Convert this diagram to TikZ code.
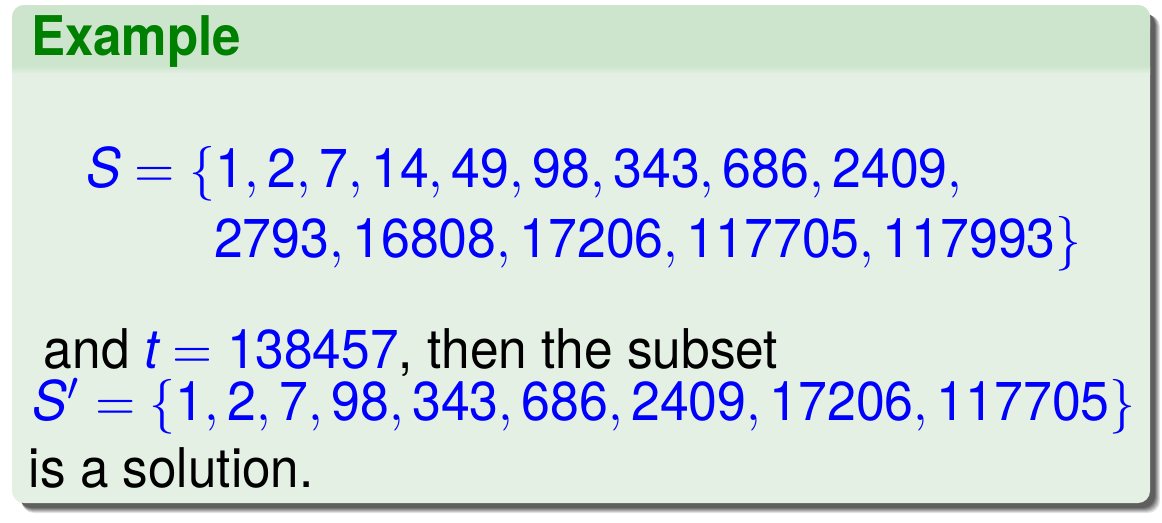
\documentclass[tikz,border=0pt]{standalone}
\usepackage{graphicx}
\usepackage{fontspec}
\setmainfont{TeX Gyre Heros}
\setsansfont{TeX Gyre Heros}
\definecolor{titlebg}{RGB}{205,229,205}
\definecolor{bodybg}{RGB}{229,240,229}
\definecolor{titlefg}{RGB}{0,128,0}
\newcommand\sqz[2]{\scalebox{#1}[1]{#2}}
\tikzset{
  line/.style={anchor=base west, inner sep=0pt, font=\fontsize{10.95}{12}\selectfont},
  mathline/.style={line, text=blue},
  titletext/.style={anchor=base west, inner sep=0pt, text=titlefg, font=\fontsize{10.95}{12}\selectfont\bfseries},
  shadowlayer/.style={fill=black, rounded corners=2.4pt}
}
\begin{document}
\begin{tikzpicture}[x=0.2pt,y=-0.2pt]
\useasboundingbox (0,0) rectangle (1162,522);
% shadow
\foreach \i/\o in {0/0.10,1/0.12,2/0.14,3/0.16,4/0.18,5/0.20}{
  \fill[shadowlayer, opacity=\o] (22-\i/2,15-\i/2) rectangle (1160-\i,513-\i);
}
% body
\fill[bodybg, rounded corners=2.4pt] (12,5) rectangle (1150,503);
\fill[titlebg, rounded corners=2.4pt] (12,5) rectangle (1150,40);
\fill[titlebg] (12,30) rectangle (1150,66);
\shade[top color=titlebg, bottom color=bodybg] (12,66) rectangle (1150,74);
\node[titletext] (title) at (30,55) {\sqz{0.933}{Example}};
\node[mathline] (l1) at (85,187) {\sqz{0.947}{$\mathit{S}=\{\mathsf{1,2,7,14,49,98,343,686,2409,}$}};
\node[mathline] (l2) at (213,257) {\sqz{0.947}{$\mathsf{2793,16808,17206,117705,117993}\}$}};
\node[line] (l3) at (43,368) {\sqz{0.94}{and \textcolor{blue}{$\mathit{t}=\mathsf{138457}$}, then the subset}};
\node[mathline] (l4) at (32,420) {\sqz{0.947}{$\mathit{S}'=\{\mathsf{1,2,7,98,343,686,2409,17206,117705}\}$}};
\node[line] (l5) at (28,487) {\sqz{0.935}{is a solution.}};
\end{tikzpicture}
\end{document}
